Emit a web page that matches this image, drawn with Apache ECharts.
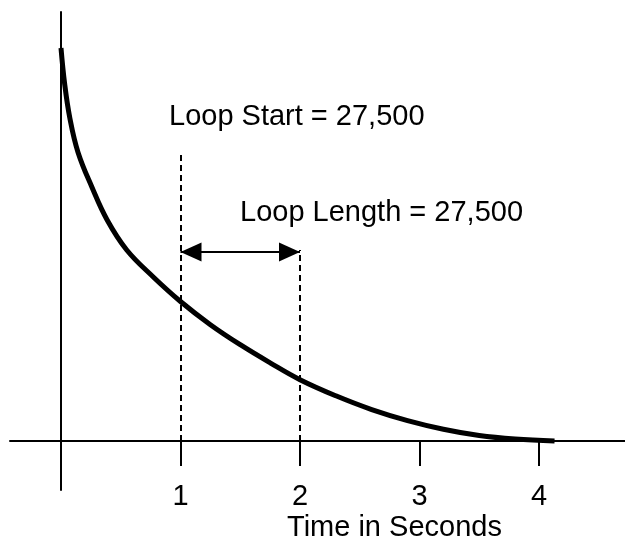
<!DOCTYPE html>
<html style="height: 100%">
<head>
<meta charset="utf-8">
<script src="https://cdn.jsdelivr.net/npm/echarts@6/dist/echarts.min.js"></script>
</head>
<body style="height: 100%; margin: 0; background: #fff;">
<div id="container" style="width: 625px; height: 542px"></div>
<script type="text/javascript">
// decay envelope, amplitude in % of start, time in seconds
var curveTime = [0, 0.03, 0.075, 0.142, 0.26, 0.385, 0.55, 0.77, 1.0, 1.25, 1.5, 1.75, 2.0, 2.3, 2.6, 2.9, 3.2, 3.5, 3.8, 4.13];
var curveAmp  = [100, 91, 82, 73.5, 64.5, 56.3, 48.6, 41.8, 35.5, 29.6, 24.5, 19.9, 15.6, 11.5, 8.0, 5.2, 3.0, 1.4, 0.5, 0];

var tickValues = [1, 2, 3, 4];
var loopStart = 1, loopEnd = 2;          // seconds
var startLineTop = 72.8, endLineTop = 48.6, arrowLevel = 48.1;
var labelStart = 'Loop Start = 27,500';
var labelLength = 'Loop Length = 27,500';
var axisTitle = 'Time in Seconds';

var font = "'Liberation Sans', Arial, Helvetica, sans-serif";

// filled triangle whose tip sits at the symbol centre (empty upper half)
var arrowHead = 'path://M9.5,0 L19,21 L0,21 Z M9.5,-21 L9.5,-21';

var curveData = [];
for (var i = 0; i < curveTime.length; i++) {
    curveData.push([curveTime[i], curveAmp[i]]);
}

var myChart = echarts.init(document.getElementById('container'));

var option = {
    animation: false,
    backgroundColor: '#fff',
    grid: { left: 10, right: 0, top: 12, bottom: 52, outerBoundsMode: 'none', containLabel: false },
    xAxis: {
        type: 'value',
        min: -0.4268,
        max: 4.7197,
        splitLine: { show: false },
        axisLine: { onZero: true, lineStyle: { color: '#000', width: 2 } },
        axisTick: {
            show: true,
            customValues: tickValues,
            length: 25,
            lineStyle: { color: '#000', width: 2 }
        },
        axisLabel: {
            customValues: tickValues,
            margin: -8,
            color: '#000',
            fontSize: 29,
            fontFamily: font
        }
    },
    yAxis: {
        type: 'value',
        min: -12.47,
        max: 109.16,
        splitLine: { show: false },
        axisTick: { show: false },
        axisLabel: { show: false },
        axisLine: { show: true, onZero: true, lineStyle: { color: '#000', width: 2 } }
    },
    graphic: [
        {
            type: 'text', left: 169, top: 102,
            style: { text: labelStart, fill: '#000', font: '29px ' + font }
        },
        {
            type: 'text', left: 240, top: 198,
            style: { text: labelLength, fill: '#000', font: '29px ' + font }
        },
        {
            type: 'text', left: 287, top: 513,
            style: { text: axisTitle, fill: '#000', font: '29px ' + font }
        }
    ],
    series: [
        {
            type: 'line',
            data: curveData,
            smooth: 0.4,
            showSymbol: false,
            lineStyle: { color: '#000', width: 5 },
            z: 3,
            markLine: {
                silent: true,
                symbol: ['none', 'none'],
                label: { show: false },
                lineStyle: { color: '#000', width: 2, type: [6, 4] },
                data: [
                    [{ coord: [loopStart, 0] }, { coord: [loopStart, startLineTop] }],
                    [{ coord: [loopEnd, 0] }, { coord: [loopEnd, endLineTop] }]
                ]
            }
        },
        {
            type: 'line',
            data: [],
            markLine: {
                silent: true,
                symbol: [arrowHead, arrowHead],
                symbolSize: [19, 42],
                label: { show: false },
                itemStyle: { color: '#000' },
                lineStyle: { color: '#000', width: 2, type: 'solid' },
                data: [
                    [{ coord: [loopStart, arrowLevel] }, { coord: [loopEnd, arrowLevel] }]
                ]
            }
        }
    ]
};

myChart.setOption(option);
</script>
</body>
</html>
